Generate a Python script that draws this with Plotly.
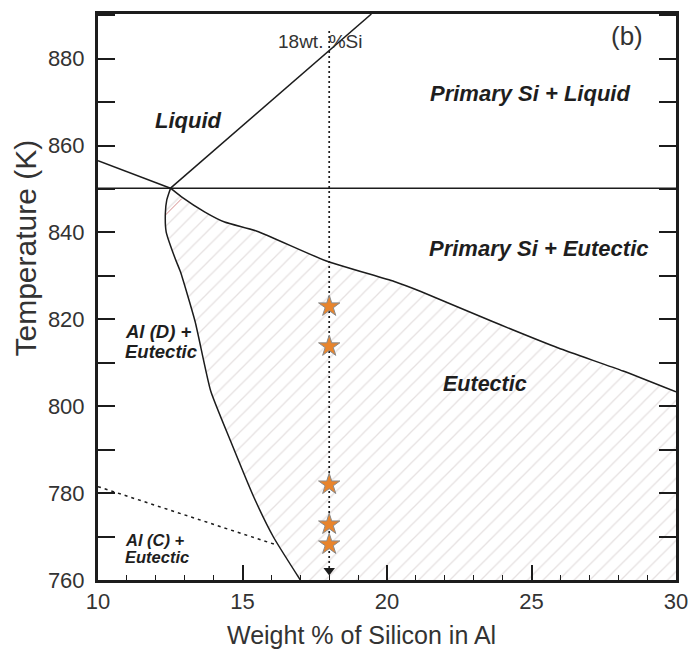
import plotly.graph_objects as go

# ---------------- data (wt.% Si, Temperature K) ----------------
eutectic_T = 850.2
x_range = [10, 30]
T_range = [760, 890.3]

liq_al_x = [10.0, 12.51]
liq_al_T = [856.5, 850.2]

liq_si_x = [12.51, 19.46]
liq_si_T = [850.2, 890.3]

upper_x = [12.51, 12.89, 13.70, 14.38, 15.50, 17.88, 20.25, 21.17, 23.65, 25.93, 28.17, 30.0]
upper_T = [850.2, 848.2, 844.7, 842.4, 840.3, 833.5, 828.7, 826.4, 819.5, 813.4, 808.1, 803.3]

solvus_x = [12.51, 12.38, 12.33, 12.36, 12.67, 12.85, 13.36, 13.90, 14.58, 15.39, 16.07, 17.0]
solvus_T = [850.2, 847.5, 844.3, 840.1, 834.0, 831.0, 819.5, 803.5, 792.1, 779.1, 769.9, 760.0]

dc_x = [10.0, 16.21]
dc_T = [781.5, 768.0]

red_x = [12.33, 12.90]
red_T = [844.0, 847.8]

sample_x = 18.0
sample_T = [823.0, 813.8, 782.0, 772.8, 768.2]
guide_T = [886.4, 761.0]
arrow_T = 762.2

x_ticks = [10, 15, 20, 25, 30]
T_ticks = [760, 780, 800, 820, 840, 860, 880]

# ---------------- figure ----------------
LINE = "#1c1c1c"
FONT = "Liberation Sans, Arial, sans-serif"

fig = go.Figure()

# hatched eutectic region
poly_x = upper_x + [30.0] + solvus_x[::-1]
poly_T = upper_T + [760.0] + solvus_T[::-1]
fig.add_trace(go.Scatter(
    x=poly_x, y=poly_T, mode="none", fill="toself",
    fillcolor="rgba(0,0,0,0)",
    fillpattern=dict(shape="/", fgcolor="#cdc4c4", bgcolor="rgba(0,0,0,0)",
                     size=11, solidity=0.12),
    hoverinfo="skip"))

def line(x, y, **kw):
    fig.add_trace(go.Scatter(x=x, y=y, mode="lines", hoverinfo="skip", **kw))

line(red_x, red_T, line=dict(color="#d58c8c", width=1))
line([x_range[0], x_range[1]], [eutectic_T, eutectic_T], line=dict(color=LINE, width=1.5))
line(liq_al_x, liq_al_T, line=dict(color=LINE, width=1.5))
line(liq_si_x, liq_si_T, line=dict(color=LINE, width=1.5))
line(upper_x, upper_T, line=dict(color=LINE, width=1.5, shape="spline", smoothing=0.5))
line(solvus_x, solvus_T, line=dict(color=LINE, width=1.5, shape="spline", smoothing=0.5))
line(dc_x, dc_T, line=dict(color=LINE, width=1.5, dash="3px,4px"))
line([sample_x, sample_x], guide_T, line=dict(color=LINE, width=1.7, dash="2px,3px"))

fig.add_trace(go.Scatter(x=[sample_x], y=[arrow_T], mode="markers",
                         marker=dict(symbol="triangle-down", size=10, color=LINE),
                         hoverinfo="skip"))
fig.add_trace(go.Scatter(x=[sample_x] * len(sample_T), y=sample_T, mode="markers",
                         marker=dict(symbol="star", size=16, color="#e8842c",
                                     line=dict(color="#8a8a8a", width=1)),
                         hoverinfo="skip"))

def label(x, y, text, size, bold=True, xanchor="center", color="#1e1e1e"):
    t = f"<b><i>{text}</i></b>" if bold else text
    fig.add_annotation(x=x, y=y, xref="x", yref="y", text=t, showarrow=False,
                       xanchor=xanchor, yanchor="middle",
                       font=dict(family=FONT, size=size, color=color))

label(13.12, 865.8, "Liquid", 22)
label(24.95, 872.0, "Primary Si + Liquid", 22)
label(25.25, 836.3, "Primary Si + Eutectic", 22)
label(23.38, 805.1, "Eutectic", 21.5)
label(10.85, 817.2, "Al (D) +", 18.5, xanchor="left")
label(10.85, 812.6, "Eutectic", 18.5, xanchor="left")
label(10.85, 769.2, "Al (C) +", 16.5, xanchor="left")
label(10.85, 765.3, "Eutectic", 16.5, xanchor="left")
label(17.68, 883.9, "18wt. %Si", 19, bold=False, color="#333333")
label(28.3, 885.3, "(b)", 26, bold=False, color="#333333")

# axis titles
fig.add_annotation(x=0.4567, y=-0.0967, xref="paper", yref="paper",
                   xanchor="center", yanchor="middle",
                   text="Weight % of Silicon in Al", showarrow=False,
                   font=dict(family=FONT, size=25, color="#333333"))
fig.add_annotation(x=-0.125, y=0.587, xref="paper", yref="paper",
                   xanchor="center", yanchor="middle",
                   text="Temperature (K)", showarrow=False, textangle=-90,
                   font=dict(family=FONT, size=30, color="#333333"))

fig.update_layout(
    width=699, height=656,
    margin=dict(l=98, r=12, t=11, b=76),
    paper_bgcolor="white", plot_bgcolor="white",
    showlegend=False,
    font=dict(family=FONT, color="#333333"),
    xaxis=dict(range=x_range, tickvals=x_ticks, ticktext=[str(v) for v in x_ticks],
               ticks="inside", ticklen=15, tickwidth=1.5, tickcolor=LINE,
               minor=dict(dtick=1, ticks="inside", ticklen=5, tickwidth=1.2, tickcolor=LINE),
               showline=True, linecolor=LINE, linewidth=3, mirror=True,
               showgrid=False, zeroline=False,
               tickfont=dict(family=FONT, size=22, color="#333333")),
    yaxis=dict(range=T_range, tickvals=T_ticks, ticktext=[str(v) for v in T_ticks],
               ticks="inside", ticklen=17, tickwidth=1.5, tickcolor=LINE,
               minor=dict(dtick=10, ticks="inside", ticklen=17, tickwidth=1.5, tickcolor=LINE),
               showline=True, linecolor=LINE, linewidth=3, mirror="ticks",
               showgrid=False, zeroline=False, ticklabelstandoff=6,
               tickfont=dict(family=FONT, size=22, color="#333333")),
)

fig.write_html("out.html")
